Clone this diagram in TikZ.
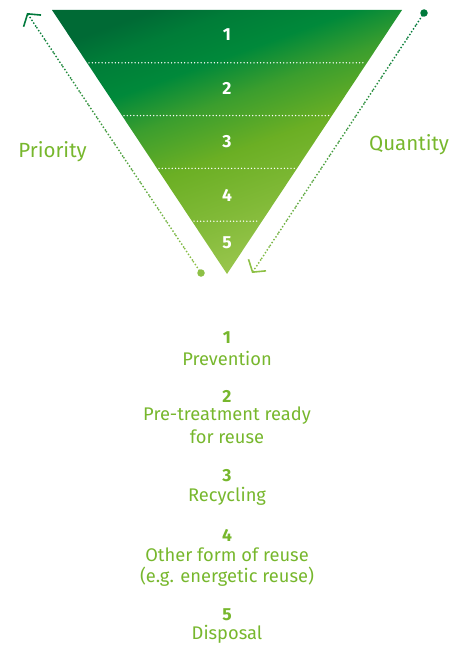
\documentclass[tikz,border=0pt]{standalone}
\usepackage{fontspec}
\setmainfont{Fira Sans}
\usetikzlibrary{arrows.meta,calc}
\definecolor{dkgreen}{HTML}{006A35}
\definecolor{midgreen}{HTML}{00893A}
\definecolor{limegreen}{HTML}{6BAF24}
\definecolor{ltgreen}{HTML}{A2CA55}
\definecolor{txtgreen}{HTML}{77B72D}
\definecolor{dotdark}{HTML}{00793B}
\definecolor{dotlight}{HTML}{8DC045}
\pgfdeclareverticalshading{trishade}{100bp}{color(0bp)=(ltgreen); color(25bp)=(ltgreen); color(38bp)=(limegreen!60!ltgreen); color(48bp)=(limegreen); color(57bp)=(midgreen!45!limegreen); color(64bp)=(midgreen); color(71bp)=(midgreen!60!dkgreen); color(76bp)=(dkgreen); color(100bp)=(dkgreen)}
\tikzset{
  sep/.style={draw=white, line width=1.5pt, dash pattern=on 0pt off 3.3pt, line cap=round},
  num/.style={font=\fontsize{17.5}{17.5}\selectfont\bfseries, text=white, inner sep=0pt},
  side/.style={font=\fontsize{20.5}{20.5}\selectfont, text=txtgreen, inner sep=0pt},
  lnum/.style={font=\fontsize{17.5}{17.5}\selectfont\bfseries, text=txtgreen, inner sep=0pt},
  ltxt/.style={font=\fontsize{18.3}{18.3}\selectfont, text=txtgreen, inner sep=0pt},
  dotseg/.style={line width=2pt, dash pattern=on 0pt off 3.4pt, line cap=round},
  enddot/.style={circle, inner sep=0pt, minimum size=7.5pt},
  tip/.style={dash pattern=on 0pt off 60pt, line cap=butt, line width=1.5pt,
    -{Straight Barb[length=8.5pt,width=21pt,line width=1.6pt]}}
}
\begin{document}
\begin{tikzpicture}[x=1pt,y=-1pt]
\useasboundingbox (0,0) rectangle (453,647);
% triangle
\coordinate (TL) at (52,10);
\coordinate (TR) at (402,10);
\coordinate (AP) at (227,274);
\shade[shading=trishade, shading angle=20] (TL) -- (TR) -- (AP) -- cycle;
% separators
\foreach \f in {0.2,0.4,0.6,0.8}{
  \draw[sep] ($(TL)!\f!(AP)+(2,0)$) -- ($(TR)!\f!(AP)-(2,0)$);
}
\node[num] (n1) at (227,35) {1};
\node[num] (n2) at (227,88) {2};
\node[num] (n3) at (227,142) {3};
\node[num] (n4) at (227,195) {4};
\node[num] (n5) at (227,243) {5};
% priority arrow
\node[enddot, fill=dotlight] (pd) at (201,273) {};
\coordinate (pt) at (27,13);
\foreach \i in {0,...,19}{
  \pgfmathsetmacro{\mix}{100-\i*5}
  \draw[dotseg, color=dotlight!\mix!dotdark] ($(pd)!\i/20!(pt)$) -- ($(pd)!\i/20+0.05!(pt)$);
}
\draw[tip, dotdark] ($(pt)!12pt!(pd)$) -- (pt);
% quantity arrow
\node[enddot, fill=dotdark] (qd) at (424,13) {};
\coordinate (qt) at (252,273);
\foreach \i in {0,...,19}{
  \pgfmathsetmacro{\mix}{100-\i*5}
  \draw[dotseg, color=dotdark!\mix!dotlight] ($(qd)!\i/20!(qt)$) -- ($(qd)!\i/20+0.05!(qt)$);
}
\draw[tip, dotlight] ($(qt)!12pt!(qd)$) -- (qt);
% side labels
\node[side] (pri) at (52.5,152) {Priority};
\node[side] (qua) at (409,145) {Quantity};
% legend
\node[lnum] (l1) at (227,338) {1};
\node[ltxt] (t1) at (227,358) {Prevention};
\node[lnum] (l2) at (227,396) {2};
\node[ltxt] (t2a) at (227,416) {Pre-treatment ready};
\node[ltxt] (t2b) at (227,437) {for reuse};
\node[lnum] (l3) at (227,476) {3};
\node[ltxt] (t3) at (227,496) {Recycling};
\node[lnum] (l4) at (227,535) {4};
\node[ltxt] (t4a) at (227,555) {Other form of reuse};
\node[ltxt] (t4b) at (227,577) {(e.g. energetic reuse)};
\node[lnum] (l5) at (227,615) {5};
\node[ltxt] (t5) at (227,634) {Disposal};
\end{tikzpicture}
\end{document}
